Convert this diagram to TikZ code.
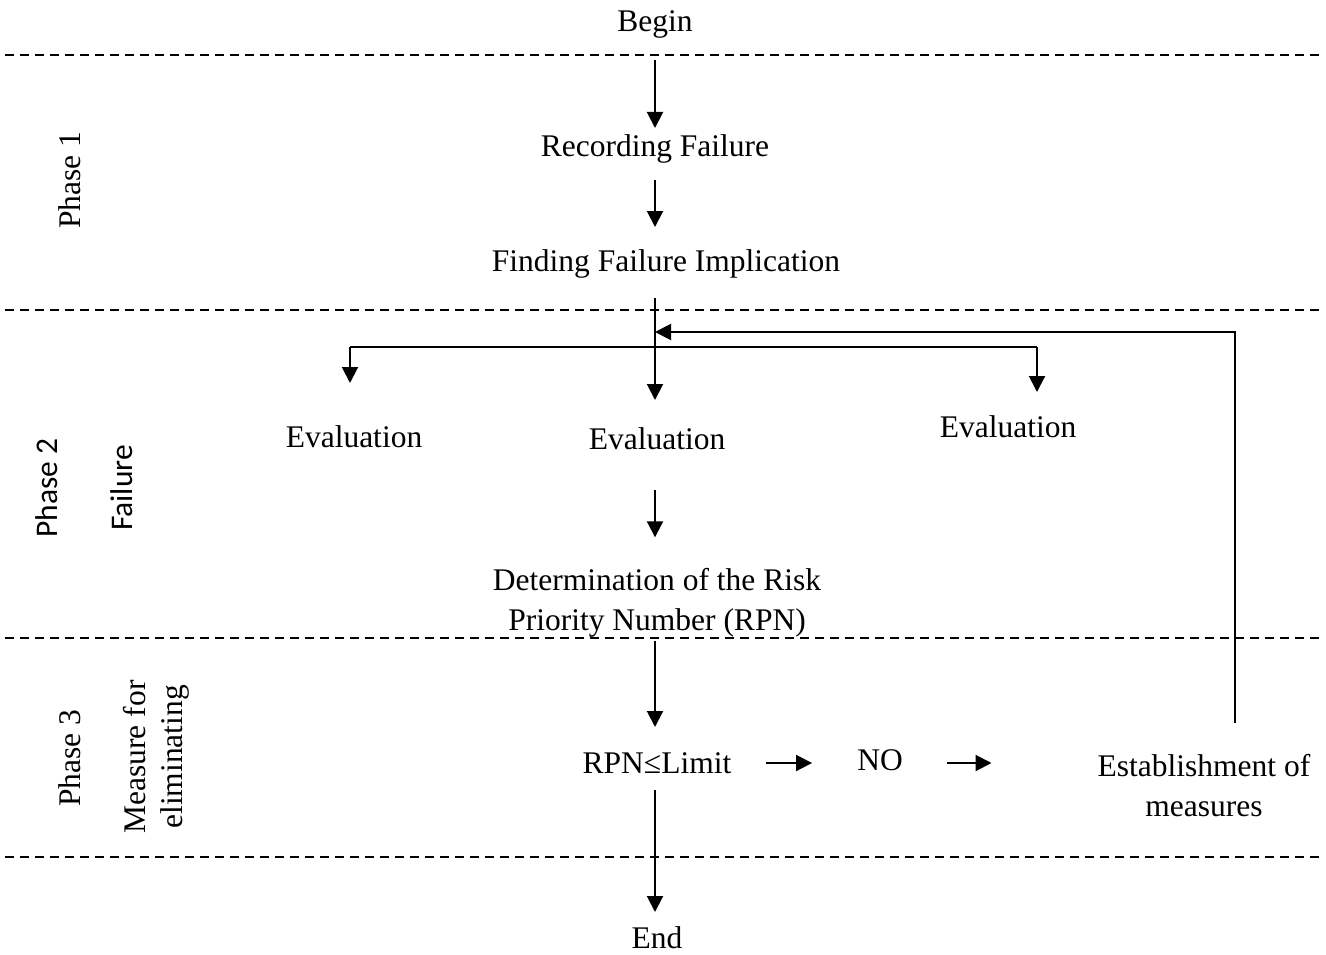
\documentclass[tikz,border=0pt]{standalone}
\usepackage{fontspec}
\setmainfont{Liberation Serif}
\newfontfamily\serifmain{Liberation Serif}
\newfontfamily\calib{Carlito}
\usetikzlibrary{arrows.meta,calc}
\begin{document}
\begin{tikzpicture}[x=1pt,y=-1pt,
  txt/.style={font=\serifmain\fontsize{31.5}{40}\selectfont, inner sep=0pt, align=center},
  sidetxt/.style={txt, rotate=90},
  arr/.style={line width=2pt, -{Triangle[length=16pt,width=16pt]}},
  ln/.style={line width=2pt},
  phaseline/.style={dash pattern=on 9pt off 6pt, line width=1.5pt}]
\useasboundingbox (0,0) rectangle (1326,955);

% phase separators
\draw[phaseline] (5,55) -- (1320,55);
\draw[phaseline] (5,310) -- (1320,310);
\draw[phaseline] (5,638) -- (1320,638);
\draw[phaseline] (5,857) -- (1320,857);

% side labels
\node[sidetxt] (ph1) at (70,180) {Phase 1};
\node[sidetxt, font=\calib\fontsize{31.5}{40}\selectfont] (ph2) at (47,488) {Phase 2};
\node[sidetxt, font=\calib\fontsize{31.5}{40}\selectfont] (fail) at (122,488) {Failure};
\node[sidetxt] (ph3) at (70,758) {Phase 3};
\node[sidetxt, font=\serifmain\fontsize{31.5}{37}\selectfont] (meas) at (156,757) {Measure for\\eliminating};

% main nodes
\coordinate (sx) at (655,0);
\node[txt, anchor=base] (begin) at (655,32) {Begin};
\node[txt, anchor=base] (rec) at (655,157) {Recording Failure};
\node[txt, anchor=base] (find) at (666,271) {Finding Failure Implication};
\node[txt, anchor=base] (ev1) at (354,447) {Evaluation};
\node[txt, anchor=base] (ev2) at (657,449) {Evaluation};
\node[txt, anchor=base] (ev3) at (1008,437) {Evaluation};
\node[txt] (det) at (657,603) {Determination of the Risk\\Priority Number (RPN)};
\node[txt, anchor=base] (rpn) at (657,773) {RPN≤Limit};
\node[txt, anchor=base] (no) at (880,770) {NO};
\node[txt] (est) at (1204,786) {Establishment of\\measures};
\node[txt, anchor=base] (endn) at (657,948) {End};

% spine
\draw[arr] ($(sx |- begin.base)+(0,28)$) -- ($(sx |- rec.base)+(0,-29)$);
\draw[arr] ($(sx |- rec.base)+(0,23)$) -- ($(sx |- find.base)+(0,-44)$);
\draw[arr] ($(sx |- find.base)+(0,27)$) -- ($(sx |- ev2.base)+(0,-49)$);
\draw[arr] ($(sx |- ev2.base)+(0,41)$) -- ($(sx |- det.north)+(0,-31)$);
\draw[arr] ($(sx |- det.south)+(0,3)$) -- ($(sx |- rpn.base)+(0,-46)$);
\draw[arr] ($(sx |- rpn.base)+(0,17)$) -- ($(sx |- endn.base)+(0,-36)$);

% branches to side evaluations
\coordinate (bl) at (350,347);
\coordinate (br) at (1037,347);
\draw[ln] (bl) -- (br);
\draw[arr] (bl) -- ($(bl |- ev1.base)+(0,-64)$);
\draw[arr] (br) -- ($(br |- ev3.base)+(0,-45)$);

% RPN row
\coordinate (rowy) at (0,763);
\draw[arr] ($(rpn.east |- rowy)+(35,0)$) -- ($(no.west |- rowy)+(-45,0)$);
\draw[arr] ($(no.east |- rowy)+(44,0)$) -- ($(est.west |- rowy)+(-106,0)$);

% feedback loop
\coordinate (fb) at (1235,332);
\draw[arr] ($(fb |- est.north)+(0,-32)$) -- (fb) -- (fb -| sx);
\end{tikzpicture}
\end{document}
